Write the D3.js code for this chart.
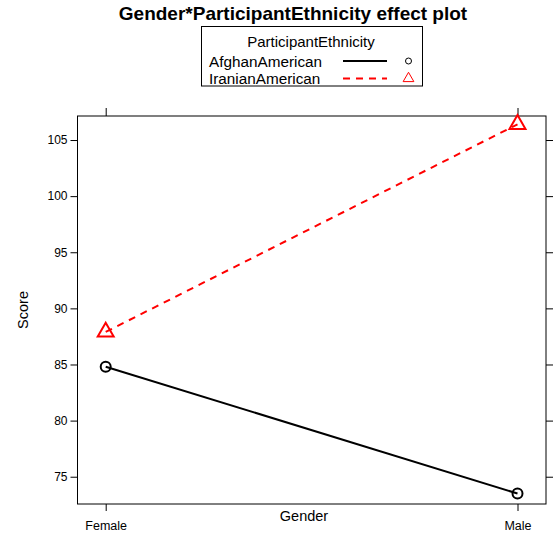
<!DOCTYPE html>
<html>
<head>
<meta charset="utf-8">
<script src="https://cdn.jsdelivr.net/npm/d3@7"></script>
<style>
  html, body { margin: 0; padding: 0; background: #fff; }
  svg { display: block; font-family: "Liberation Sans", Arial, sans-serif; }
</style>
</head>
<body>
<svg id="chart" width="556" height="537"></svg>
<script>
// Effect estimates for Score by Gender and ParticipantEthnicity
const genders = ["Female", "Male"];
const ethnicities = ["AfghanAmerican", "IranianAmerican"];
const afghanScores = [84.8, 73.5];
const iranianScores = [87.9, 106.4];
const yTicks = [75, 80, 85, 90, 95, 100, 105];

const seriesStyle = {
  AfghanAmerican: { color: "#000", dash: null, symbol: "circle" },
  IranianAmerican: { color: "#ff0000", dash: "7,6", symbol: "triangle" }
};
const series = [
  { name: ethnicities[0], values: afghanScores },
  { name: ethnicities[1], values: iranianScores }
];

const svg = d3.select("#chart");
const panel = { left: 77.5, right: 546, top: 116, bottom: 504 };

const x = d3.scalePoint().domain(genders).range([105.7, 517.5]);
const y = d3.scaleLinear().domain([72.57, 107.14]).range([panel.bottom, panel.top]);

// Panel frame
svg.append("rect")
  .attr("x", panel.left).attr("y", panel.top)
  .attr("width", panel.right - panel.left).attr("height", panel.bottom - panel.top)
  .attr("fill", "none").attr("stroke", "#000").attr("stroke-width", 1);

// Axes: labels on left and bottom, ticks on all four sides
const axisStyle = g => {
  g.select(".domain").remove();
  g.selectAll(".tick line").attr("stroke", "#000");
  g.selectAll(".tick text").attr("fill", "#000").style("font-family", "Liberation Sans, Arial, sans-serif");
};
svg.append("g").attr("transform", `translate(${panel.left},0)`)
  .call(d3.axisLeft(y).tickValues(yTicks).tickSize(7).tickPadding(3))
  .call(axisStyle)
  .selectAll(".tick text").style("font-size", "12px");
svg.append("g").attr("transform", `translate(${panel.right},0)`)
  .call(d3.axisRight(y).tickValues(yTicks).tickSize(7).tickFormat(""))
  .call(axisStyle);
svg.append("g").attr("transform", `translate(0,${panel.bottom})`)
  .call(d3.axisBottom(x).tickSize(7).tickPadding(10))
  .call(axisStyle)
  .selectAll(".tick text").style("font-size", "12.5px");
svg.append("g").attr("transform", `translate(0,${panel.top})`)
  .call(d3.axisTop(x).tickSize(8).tickFormat(""))
  .call(axisStyle);

// Axis titles
svg.append("text").attr("x", 304).attr("y", 521)
  .attr("text-anchor", "middle").style("font-size", "14.5px").text("Gender");
svg.append("text").attr("transform", "translate(28,310) rotate(-90)")
  .attr("text-anchor", "middle").style("font-size", "14.5px").text("Score");

// Lines and symbols
const line = d3.line().x((d, i) => x(genders[i])).y(d => y(d));
const triangle = d3.symbol().type(d3.symbolTriangle).size(110);

series.forEach(s => {
  const st = seriesStyle[s.name];
  svg.append("path").datum(s.values)
    .attr("d", line).attr("fill", "none")
    .attr("stroke", st.color).attr("stroke-width", 2)
    .attr("stroke-dasharray", st.dash);
  s.values.forEach((v, i) => {
    if (st.symbol === "circle") {
      svg.append("circle").attr("cx", x(genders[i])).attr("cy", y(v)).attr("r", 5)
        .attr("fill", "none").attr("stroke", st.color).attr("stroke-width", 2);
    } else {
      svg.append("path").attr("d", triangle())
        .attr("transform", `translate(${x(genders[i])},${y(v)})`)
        .attr("fill", "none").attr("stroke", st.color).attr("stroke-width", 2);
    }
  });
});

// Title
svg.append("text").attr("x", 293).attr("y", 20)
  .attr("text-anchor", "middle").style("font-size", "19px").style("font-weight", "bold")
  .text("Gender*ParticipantEthnicity effect plot");

// Legend
const legend = svg.append("g");
legend.append("rect").attr("x", 201.5).attr("y", 26.5).attr("width", 221).attr("height", 59.5)
  .attr("fill", "#fff").attr("stroke", "#000").attr("stroke-width", 1);
legend.append("text").attr("x", 311).attr("y", 47)
  .attr("text-anchor", "middle").style("font-size", "15px").text("ParticipantEthnicity");
series.forEach((s, i) => {
  const st = seriesStyle[s.name];
  const cy = 61 + i * 17.5;
  legend.append("text").attr("x", 209).attr("y", cy + 5.5)
    .style("font-size", "15.3px").text(s.name);
  legend.append("line").attr("x1", 343).attr("x2", 387).attr("y1", cy).attr("y2", cy)
    .attr("stroke", st.color).attr("stroke-width", 2).attr("stroke-dasharray", st.dash);
  if (st.symbol === "circle") {
    legend.append("circle").attr("cx", 408.5).attr("cy", cy).attr("r", 3)
      .attr("fill", "none").attr("stroke", st.color).attr("stroke-width", 1);
  } else {
    legend.append("path").attr("d", d3.symbol().type(d3.symbolTriangle).size(50)())
      .attr("transform", `translate(408.5,${cy})`)
      .attr("fill", "none").attr("stroke", st.color).attr("stroke-width", 1);
  }
});
</script>
</body>
</html>
